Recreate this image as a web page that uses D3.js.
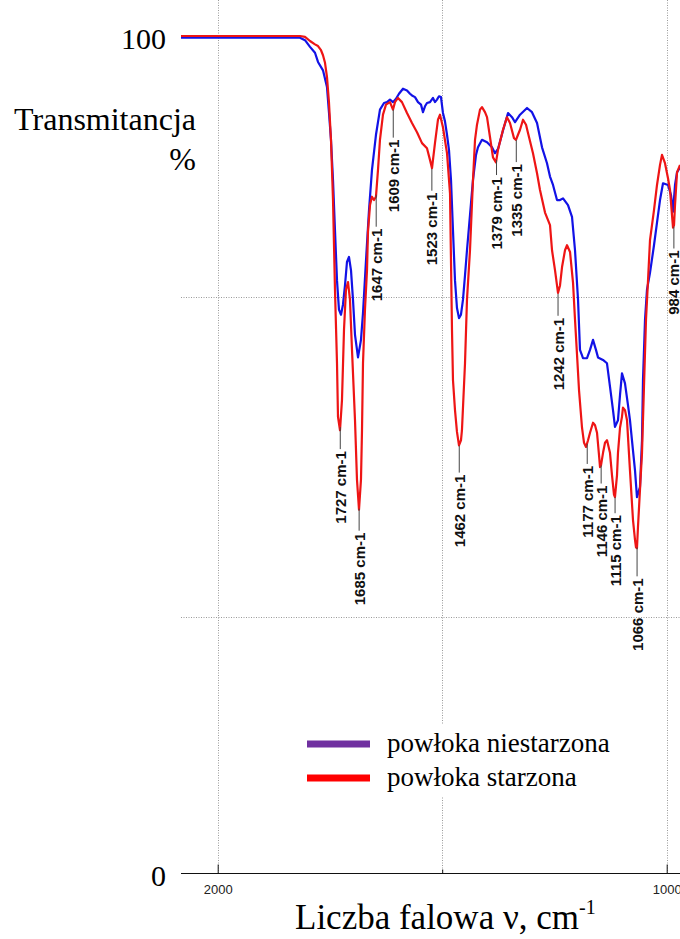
<!DOCTYPE html>
<html>
<head>
<meta charset="utf-8">
<script src="https://cdn.jsdelivr.net/npm/d3@7"></script>
<style>
  body { margin: 0; background: #fff; }
  svg { display: block; }
</style>
</head>
<body>
<svg id="chart" width="680" height="939"></svg>
<script>
// FTIR transmittance spectra of the coating, [wavenumber cm-1, transmittance %]
const unagedSpectrum = [
  [2081.7,99.8],[1816.7,99.8],[1805.6,99.5],[1794.4,98.7],[1783.3,98.0],[1776.6,96.9],[1765.5,95.9],
  [1756.6,93.9],[1752.1,90.8],[1747.7,87.6],[1743.2,82.8],[1738.8,76.8],[1734.3,70.8],[1729.9,67.3],
  [1725.4,66.7],[1721.0,67.9],[1716.5,70.2],[1712.1,73.0],[1707.6,73.6],[1703.1,72.0],[1698.7,68.5],
  [1694.2,64.3],[1687.5,61.6],[1680.9,63.7],[1676.4,66.9],[1669.7,73.2],[1663.0,79.2],[1656.4,84.0],
  [1647.5,88.2],[1638.6,91.2],[1629.6,92.0],[1623.0,92.1],[1616.3,92.4],[1609.6,92.1],[1602.9,92.5],
  [1596.2,93.1],[1587.3,93.7],[1578.4,93.5],[1571.7,93.1],[1567.3,92.9],[1560.6,92.7],[1553.9,92.1],
  [1547.2,91.8],[1542.8,90.9],[1538.3,91.6],[1533.9,92.0],[1527.2,92.1],[1520.5,92.6],[1516.1,92.1],
  [1511.6,92.4],[1507.2,92.8],[1502.7,92.7],[1498.3,90.8],[1493.8,89.8],[1489.3,88.2],[1484.9,86.4],
  [1480.4,82.8],[1476.0,76.8],[1471.5,70.8],[1467.1,67.5],[1462.6,66.3],[1458.2,66.7],[1453.7,68.5],
  [1449.2,71.4],[1444.8,74.4],[1438.1,78.6],[1431.4,82.8],[1424.7,85.8],[1420.3,86.7],[1411.4,87.6],
  [1400.2,87.3],[1389.1,86.7],[1382.4,86.0],[1375.7,86.5],[1364.6,88.7],[1353.4,90.8],[1344.5,90.3],
  [1337.8,89.7],[1326.7,90.6],[1311.1,91.4],[1300.0,90.9],[1288.8,89.6],[1277.7,86.7],[1266.6,84.8],
  [1259.9,83.2],[1253.2,82.2],[1244.3,80.4],[1237.6,80.4],[1230.9,80.6],[1219.8,79.8],[1210.9,78.4],
  [1204.2,74.4],[1197.5,68.5],[1193.1,62.5],[1186.4,61.5],[1177.5,61.5],[1170.8,62.5],[1164.1,63.7],
  [1157.5,62.5],[1153.0,61.6],[1141.9,61.3],[1133.0,60.9],[1126.3,58.1],[1119.6,55.3],[1115.2,53.3],
  [1108.5,54.1],[1104.0,57.1],[1099.6,59.7],[1092.9,58.5],[1086.2,55.9],[1081.8,54.1],[1075.1,50.5],
  [1070.6,48.1],[1066.2,44.9],[1059.5,46.1],[1055.0,51.7],[1052.8,58.9],[1048.3,66.1],[1043.9,69.7],
  [1037.2,71.7],[1028.3,75.0],[1021.6,77.7],[1014.9,80.4],[1008.2,82.4],[997.1,82.2],[990.4,81.0],
  [985.9,79.0],[981.5,82.2],[977.0,83.7],[970.3,84.3]
];

const agedSpectrum = [
  [2081.7,100.0],[1816.7,100.0],[1805.6,99.9],[1794.4,99.4],[1783.3,99.0],[1776.6,98.8],[1769.9,98.3],
  [1765.5,97.7],[1761.0,96.8],[1756.6,95.1],[1752.1,92.0],[1747.7,87.6],[1743.2,80.4],[1738.8,69.7],
  [1734.3,60.9],[1732.1,54.5],[1727.6,52.9],[1723.2,56.5],[1718.7,64.9],[1714.3,69.7],[1709.8,70.6],
  [1705.4,68.5],[1700.9,62.5],[1694.2,54.1],[1689.8,47.0],[1685.3,43.4],[1680.9,47.0],[1678.6,52.9],
  [1676.4,60.9],[1672.0,67.3],[1667.5,72.0],[1665.3,76.6],[1660.8,79.8],[1656.4,80.8],[1651.9,80.4],
  [1647.5,80.8],[1643.0,84.0],[1638.6,87.6],[1631.9,90.6],[1625.2,91.8],[1616.3,92.1],[1609.6,91.2],
  [1605.2,92.1],[1598.5,92.6],[1589.6,92.1],[1578.4,90.8],[1567.3,89.6],[1556.1,88.5],[1545.0,87.2],
  [1533.9,86.6],[1527.2,85.2],[1522.7,84.2],[1516.1,87.2],[1509.4,90.0],[1504.9,90.6],[1498.3,89.1],
  [1489.3,86.0],[1482.6,81.2],[1478.2,64.9],[1476.0,58.9],[1471.5,55.3],[1467.1,52.7],[1462.6,51.1],
  [1458.2,51.7],[1456.0,52.9],[1449.2,60.9],[1444.8,68.5],[1438.1,74.4],[1431.4,82.8],[1426.9,87.6],
  [1422.5,89.4],[1415.8,91.2],[1411.4,91.5],[1404.7,90.9],[1400.2,90.3],[1393.5,87.9],[1386.9,85.5],
  [1380.2,84.9],[1375.7,86.4],[1364.6,88.8],[1355.7,90.3],[1349.0,89.6],[1340.1,87.8],[1335.6,87.6],
  [1331.2,88.2],[1326.7,88.8],[1320.0,90.0],[1313.3,89.4],[1308.9,88.4],[1297.8,86.0],[1288.8,83.6],
  [1282.2,81.6],[1271.0,78.9],[1264.3,78.0],[1259.9,77.4],[1255.4,74.4],[1248.7,72.0],[1244.3,70.2],
  [1242.1,69.3],[1237.6,70.2],[1233.1,72.4],[1226.5,74.4],[1222.0,75.0],[1215.3,74.2],[1208.6,70.5],
  [1204.2,66.1],[1199.7,61.9],[1195.3,57.7],[1188.6,53.2],[1184.1,51.4],[1179.7,50.9],[1175.2,51.7],
  [1170.8,52.6],[1164.1,53.8],[1159.6,53.5],[1155.2,52.6],[1150.7,49.9],[1148.5,48.5],[1146.3,48.7],
  [1141.8,50.2],[1137.4,51.4],[1132.9,51.7],[1126.3,50.2],[1121.8,47.5],[1117.4,45.2],[1115.2,44.9],
  [1110.7,47.5],[1108.5,50.2],[1104.0,53.2],[1099.6,54.5],[1097.4,55.6],[1092.9,55.3],[1088.4,54.1],
  [1081.8,48.1],[1075.1,42.2],[1070.6,39.8],[1068.4,38.9],[1066.2,38.8],[1064.0,41.3],[1059.5,45.8],
  [1055.0,50.2],[1050.6,58.1],[1046.1,66.1],[1041.6,70.8],[1037.2,75.6],[1028.3,79.2],[1021.6,82.2],
  [1014.9,84.6],[1010.5,85.8],[1003.8,84.8],[997.1,83.0],[992.6,81.6],[988.2,78.6],[985.9,77.1],
  [983.7,77.4],[981.5,79.8],[977.0,83.7],[970.3,84.6]
];

// Absorption bands marked on the aged coating spectrum
const peakWavenumbers = [1727, 1685, 1647, 1609, 1523, 1462, 1379, 1335, 1242, 1177, 1146, 1115, 1066, 984];
// Leader line length under each band (px)
const leaderLengths = [22, 22, 32, 28, 22, 27, 15, 22, 22, 20, 18, 16, 29, 22];

const xTickValues = [2000, 1500, 1000];
const xTickLabels = ["2000", "", "1000"];
const gridWavenumbers = [2000, 1500, 1000];
const gridTransmittance = [30.6, 68.8];
const yLabelValues = [100, 0];
const seriesNames = ["powłoka niestarzona", "powłoka starzona"];
const seriesColors = ["#1212e6", "#ee1515"];
const legendColors = ["#7030a0", "#ff0000"];

const svg = d3.select("#chart");
const plotLeft = 181, plotRight = 680, plotTop = 0;

const x = d3.scaleLinear().domain([2000, 1000]).range([217.7, 666.7]);
const y = d3.scaleLinear().domain([0, 100]).range([873, 36]);

svg.append("defs").append("clipPath").attr("id", "plotClip")
  .append("rect").attr("x", plotLeft).attr("y", plotTop)
  .attr("width", plotRight - plotLeft).attr("height", y(0) - plotTop);

// dotted grid
const grid = svg.append("g").attr("stroke", "#9a9a9a").attr("stroke-width", 1)
  .attr("stroke-dasharray", "1,1.5");
grid.selectAll("line.v").data(gridWavenumbers).join("line")
  .attr("x1", d => Math.round(x(d)) + 0.5).attr("x2", d => Math.round(x(d)) + 0.5)
  .attr("y1", plotTop).attr("y2", y(0));
grid.selectAll("line.h").data(gridTransmittance).join("line")
  .attr("x1", plotLeft).attr("x2", plotRight)
  .attr("y1", d => Math.round(y(d)) + 0.5).attr("y2", d => Math.round(y(d)) + 0.5);

// x axis
svg.append("line").attr("x1", plotLeft).attr("x2", plotRight)
  .attr("y1", y(0) + 0.5).attr("y2", y(0) + 0.5).attr("stroke", "#111").attr("stroke-width", 1.2);
const xAxis = d3.axisBottom(x).tickValues(xTickValues).tickSizeOuter(0).tickSize(-9).tickPadding(11)
  .tickFormat((d, i) => xTickLabels[i]);
const gx = svg.append("g").attr("transform", `translate(0,${y(0) + 0.5})`).call(xAxis);
gx.select(".domain").remove();
gx.selectAll(".tick line").attr("stroke", "#111").attr("y2", d => d === 1500 ? -4 : -9);
gx.selectAll(".tick text").attr("font-family", "'Liberation Sans', Arial, sans-serif")
  .attr("font-size", 13).attr("fill", "#222");

const serif = "'Liberation Serif', 'Times New Roman', serif";

// y labels
svg.selectAll("text.ylab").data(yLabelValues).join("text")
  .attr("x", 166).attr("y", d => y(d) + 13)
  .attr("text-anchor", "end").attr("font-family", serif)
  .attr("font-size", 30).attr("fill", "#000").text(d => d);

svg.append("text").attr("x", 196).attr("y", 130).attr("text-anchor", "end")
  .attr("font-family", serif).attr("font-size", 32).text("Transmitancja");
svg.append("text").attr("x", 196).attr("y", 170).attr("text-anchor", "end")
  .attr("font-family", serif).attr("font-size", 32).text("%");

const title = svg.append("text").attr("x", 295).attr("y", 929)
  .attr("font-family", serif).attr("font-size", 35);
title.append("tspan").text("Liczba falowa ν, cm");
title.append("tspan").attr("dy", -15).attr("font-size", 20).text("-1");

// spectra
const line = d3.line().x(d => x(d[0])).y(d => y(d[1])).curve(d3.curveLinear);
const curves = svg.append("g").attr("clip-path", "url(#plotClip)");
[unagedSpectrum, agedSpectrum].forEach((s, i) => {
  curves.append("path").datum(s).attr("d", line).attr("fill", "none")
    .attr("stroke", seriesColors[i]).attr("stroke-width", 2.2).attr("stroke-linejoin", "round");
});

// value of a spectrum at a given wavenumber (linear interpolation)
function valueAt(series, nu) {
  for (let i = 0; i < series.length - 1; i++) {
    const a = series[i], b = series[i + 1];
    if (nu <= a[0] && nu >= b[0]) {
      const t = (a[0] - nu) / (a[0] - b[0]);
      return a[1] + t * (b[1] - a[1]);
    }
  }
  return series[series.length - 1][1];
}

// band labels with leader lines
const bands = svg.append("g");
peakWavenumbers.forEach((nu, i) => {
  const px = x(nu), top = y(valueAt(agedSpectrum, nu)) + 1, bottom = top + leaderLengths[i];
  bands.append("line").attr("x1", px).attr("x2", px).attr("y1", top).attr("y2", bottom)
    .attr("stroke", "#444").attr("stroke-width", 1);
  bands.append("text")
    .attr("transform", `translate(${px + 5.5},${bottom + 2}) rotate(-90)`)
    .attr("text-anchor", "end")
    .attr("font-family", "'Liberation Sans', Arial, sans-serif")
    .attr("font-weight", "bold").attr("font-size", 15).attr("fill", "#111")
    .text(`${nu} cm-1`);
});

// legend
const legend = svg.append("g");
legend.append("rect").attr("x", 298).attr("y", 724).attr("width", 320).attr("height", 72).attr("fill", "#fff");
seriesNames.forEach((name, i) => {
  const ly = 744 + i * 34;
  legend.append("line").attr("x1", 307).attr("x2", 370).attr("y1", ly).attr("y2", ly)
    .attr("stroke", legendColors[i]).attr("stroke-width", 7);
  legend.append("text").attr("x", 387).attr("y", ly + 8)
    .attr("font-family", serif).attr("font-size", 27).attr("fill", "#000").text(name);
});
</script>
</body>
</html>
